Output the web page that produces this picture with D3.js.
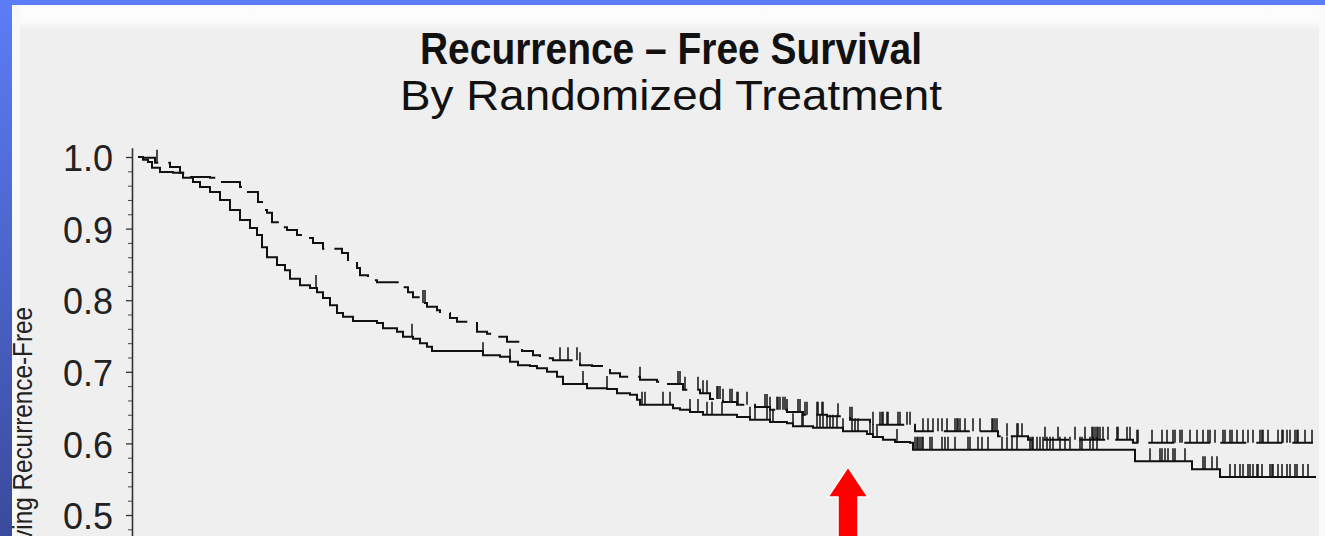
<!DOCTYPE html>
<html>
<head>
<meta charset="utf-8">
<script src="https://cdn.jsdelivr.net/npm/d3@7"></script>
<style>
  body { margin: 0; overflow: hidden; background: #fff; }
  text { font-family: "Liberation Sans", Arial, sans-serif; }
</style>
</head>
<body>
<svg id="chart"></svg>
<script>
// time in months, survival as proportion recurrence-free
const solidTimes = [0.5, 1.0, 1.4, 2.2, 3.5, 4.5, 5.5, 6.2, 7.2, 8.2, 9.2, 10.2, 11.2, 11.9, 12.4, 12.9, 13.9, 14.7, 15.2, 16.2,
  17.2, 17.9, 18.5, 19.2, 19.9, 20.5, 21.5, 23.9, 24.5, 25.9, 26.5, 27.5, 28.2, 28.9, 29.4, 34.5, 36.2, 37.2, 38.0, 39.2,
  39.9, 40.9, 41.9, 42.5, 44.9, 46.9, 47.9, 49.2, 49.9, 50.2, 53.5, 54.2, 55.2, 56.5, 59.9, 61.2, 63.2, 64.9, 65.5, 67.5,
  70.5, 72.9, 73.5, 74.5, 75.7, 77.2, 77.5, 99.7, 105.4, 108.2];
const solidSurv = [0.996, 0.993, 0.985, 0.979, 0.978, 0.971, 0.965, 0.958, 0.951, 0.940, 0.926, 0.912, 0.901, 0.891, 0.874, 0.860, 0.849, 0.842, 0.830, 0.821,
  0.817, 0.811, 0.803, 0.793, 0.782, 0.777, 0.771, 0.768, 0.761, 0.756, 0.749, 0.746, 0.740, 0.735, 0.729, 0.723, 0.721, 0.714, 0.709, 0.708,
  0.705, 0.700, 0.693, 0.683, 0.677, 0.676, 0.670, 0.668, 0.661, 0.654, 0.649, 0.647, 0.644, 0.640, 0.637, 0.633, 0.630, 0.628, 0.624, 0.622,
  0.617, 0.613, 0.609, 0.605, 0.602, 0.601, 0.591, 0.575, 0.564, 0.553];
const solidEnd = 117.8;

const dashedTimes = [0.5, 1.7, 3.2, 4.2, 4.7, 7.2, 8.2, 10.2, 11.0, 12.0, 12.4, 12.9, 13.4, 14.2, 14.9, 15.9, 16.7, 17.5, 18.5, 20.4,
  21.0, 21.9, 22.2, 23.0, 23.9, 26.5, 27.0, 27.5, 28.5, 28.9, 29.9, 30.2, 31.2, 31.9, 33.9, 34.9, 35.9, 36.9, 38.4, 39.5,
  40.2, 41.5, 44.2, 45.4, 46.5, 47.2, 48.2, 50.2, 51.9, 52.9, 54.5, 56.2, 57.2, 58.5, 59.9, 61.7, 63.2, 64.9, 66.5, 68.9,
  71.2, 73.2, 77.7, 86.0, 89.0, 99.5];
const dashedSurv = [0.999, 0.992, 0.986, 0.978, 0.972, 0.971, 0.965, 0.958, 0.951, 0.937, 0.926, 0.922, 0.909, 0.902, 0.898, 0.891, 0.887, 0.880, 0.872, 0.866,
  0.852, 0.845, 0.835, 0.828, 0.825, 0.818, 0.811, 0.804, 0.796, 0.791, 0.786, 0.782, 0.775, 0.770, 0.756, 0.753, 0.749, 0.742, 0.729, 0.723,
  0.719, 0.716, 0.709, 0.708, 0.705, 0.698, 0.693, 0.689, 0.686, 0.683, 0.675, 0.670, 0.662, 0.658, 0.654, 0.651, 0.647, 0.644, 0.640, 0.638,
  0.633, 0.626, 0.617, 0.610, 0.605, 0.601];
const dashedEnd = 117.5;

// censored observations (months)
const solidCensor = [17.8, 27.4, 34.5, 37.2, 44.5, 46.9, 50.4, 50.7, 52.5, 53.2, 55.2, 56.0, 56.9, 57.4, 58.4, 61.2, 61.7, 62.9, 63.2, 63.5,
  65.5, 66.4, 66.5, 67.9, 68.2, 68.5, 68.9, 69.2, 69.5, 69.9, 70.5, 71.4, 71.7, 72.0, 73.2, 73.5, 73.9, 75.9, 77.7, 77.9,
  78.0, 78.2, 78.4, 78.5, 79.2, 79.4, 80.4, 80.7, 81.0, 81.7, 83.0, 83.2, 84.0, 84.4, 85.0, 86.4, 86.9, 87.4, 87.9, 89.2,
  89.4, 89.5, 89.9, 90.2, 90.5, 90.9, 91.2, 91.5, 92.2, 92.7, 93.2, 94.2, 94.4, 95.2, 95.5, 95.9, 101.2, 102.2, 102.4, 102.7,
  103.0, 103.5, 103.7, 104.7, 106.5, 106.7, 107.4, 107.9, 109.2, 109.7, 110.2, 110.5, 111.0, 111.2, 111.5, 111.9, 112.0, 112.4, 113.2, 113.4,
  113.5, 114.0, 114.4, 114.9, 115.2, 115.7, 115.9, 116.5, 117.0];
const dashedCensor = [1.9, 28.5, 28.7, 42.2, 43.0, 43.9, 44.2, 50.2, 54.0, 54.2, 54.7, 56.0, 56.5, 56.9, 57.9, 58.0, 58.2, 58.5, 59.2, 59.4,
  59.9, 60.0, 60.9, 62.7, 62.9, 63.2, 63.9, 64.0, 64.2, 64.5, 64.7, 64.9, 66.0, 66.2, 66.7, 66.9, 67.9, 68.0, 68.4, 68.5,
  70.0, 71.2, 71.4, 73.5, 74.2, 74.4, 74.5, 74.9, 75.0, 76.0, 76.2, 76.9, 77.2, 78.5, 79.0, 79.5, 80.0, 80.4, 80.9, 81.7,
  81.9, 82.0, 82.2, 82.7, 83.5, 84.2, 85.4, 85.5, 85.7, 85.9, 86.9, 87.9, 88.0, 88.4, 90.7, 92.0, 93.7, 94.7, 95.4, 95.5,
  95.7, 95.9, 96.0, 96.2, 96.5, 97.0, 97.9, 98.0, 98.9, 99.2, 99.9, 100.0, 101.4, 102.4, 102.9, 103.5, 103.7, 104.2, 104.4, 105.2,
  105.9, 106.5, 107.0, 107.2, 107.7, 108.5, 108.7, 109.2, 109.4, 109.9, 110.5, 111.0, 111.5, 112.2, 112.4, 112.5, 113.0, 114.0, 114.4, 114.5,
  114.9, 115.2, 115.7, 115.9, 116.0, 116.7, 117.4];

const majorTicks = [0.5, 0.6, 0.7, 0.8, 0.9, 1.0];
const minorTicks = [0.46, 0.48, 0.52, 0.54, 0.56, 0.58, 0.62, 0.64, 0.66, 0.68, 0.72, 0.74, 0.76, 0.78, 0.82, 0.84, 0.86, 0.88, 0.92, 0.94, 0.96, 0.98];
const arrowMonth = 71;

const W = 1325, H = 536;
const svg = d3.select("#chart").attr("width", W).attr("height", H);

// slide background
const defs = svg.append("defs");
const side = defs.append("linearGradient").attr("id", "side").attr("x1", 0).attr("y1", 0).attr("x2", 0).attr("y2", 1);
side.append("stop").attr("offset", "0%").attr("stop-color", "#5c7df7");
side.append("stop").attr("offset", "100%").attr("stop-color", "#3a4a9c");
const topFade = defs.append("linearGradient").attr("id", "topfade").attr("x1", 0).attr("y1", 0).attr("x2", 0).attr("y2", 1);
topFade.append("stop").attr("offset", "0%").attr("stop-color", "#fdfdfd");
topFade.append("stop").attr("offset", "70%").attr("stop-color", "#fbfbfb");
topFade.append("stop").attr("offset", "100%").attr("stop-color", "#efefef");

svg.append("rect").attr("width", W).attr("height", H).attr("fill", "#efefef");
svg.append("rect").attr("x", 0).attr("y", 0).attr("width", W).attr("height", 30).attr("fill", "url(#topfade)");
svg.append("rect").attr("x", 12).attr("y", 0).attr("width", 8).attr("height", H).attr("fill", "#f8f8f8");
svg.append("rect").attr("x", 1319).attr("y", 0).attr("width", 6).attr("height", H).attr("fill", "#fafafa");
svg.append("rect").attr("x", 0).attr("y", 0).attr("width", W).attr("height", 5).attr("fill", "#5c7df7");
svg.append("rect").attr("x", 0).attr("y", 0).attr("width", 12).attr("height", H).attr("fill", "url(#side)");

// titles
svg.append("text")
   .attr("x", 671).attr("y", 64)
   .attr("text-anchor", "middle")
   .attr("textLength", 502).attr("lengthAdjust", "spacingAndGlyphs")
   .style("font-size", "44px").style("font-weight", "bold").attr("fill", "#111")
   .text("Recurrence – Free  Survival");
svg.append("text")
   .attr("x", 671).attr("y", 110)
   .attr("text-anchor", "middle")
   .attr("textLength", 542).attr("lengthAdjust", "spacingAndGlyphs")
   .style("font-size", "43px").attr("fill", "#111")
   .text("By Randomized Treatment");

// scales
const x = d3.scaleLinear().domain([0, 120]).range([138, 1338]);
const y = d3.scaleLinear().domain([0.45, 1.013]).range([550.8, 147.7]);

// y axis
const yAxis = svg.append("g")
   .attr("transform", "translate(132,0)")
   .call(d3.axisLeft(y).tickValues(majorTicks).tickFormat(d3.format(".1f")).tickSize(6).tickSizeOuter(0).tickPadding(13));
yAxis.select(".domain").attr("stroke", "#333").attr("stroke-width", 1.6);
yAxis.selectAll(".tick line").attr("stroke", "#333").attr("stroke-width", 1.3);
yAxis.selectAll(".tick text")
   .attr("fill", "#222")
   .attr("dy", "0.38em")
   .style("font-size", "36px")
   .style("font-family", "'Liberation Sans', Arial, sans-serif");

svg.append("g")
   .attr("transform", "translate(132,0)")
   .call(d3.axisLeft(y).tickValues(minorTicks).tickFormat("").tickSize(4).tickSizeOuter(0))
   .call(g => g.select(".domain").remove())
   .selectAll(".tick line").attr("stroke", "#444").attr("stroke-width", 1);

svg.append("text")
   .attr("transform", "translate(32,307) rotate(-90) scale(0.9,1)")
   .attr("text-anchor", "end")
   .style("font-size", "27px").attr("fill", "#222")
   .text("Proportion Surviving Recurrence-Free");

// survival curves
function steps(times, surv, end) {
  const pts = [[0, 1]];
  times.forEach((t, i) => pts.push([t, surv[i]]));
  pts.push([end, surv[surv.length - 1]]);
  return pts;
}
function survAt(times, surv, t) {
  const i = d3.bisectRight(times, t) - 1;
  return i < 0 ? 1 : surv[i];
}

const line = d3.line().x(d => x(d[0])).y(d => y(d[1])).curve(d3.curveStepAfter);

svg.append("path")
   .datum(steps(solidTimes, solidSurv, solidEnd))
   .attr("d", line)
   .attr("fill", "none").attr("stroke", "#111").attr("stroke-width", 2);

svg.append("path")
   .datum(steps(dashedTimes, dashedSurv, dashedEnd))
   .attr("d", line)
   .attr("fill", "none").attr("stroke", "#111").attr("stroke-width", 2)
   .attr("stroke-dasharray", "26,10");

const censorH = 13;
svg.selectAll(".cs")
   .data(solidCensor)
   .enter().append("line")
   .attr("class", "cs")
   .attr("x1", d => x(d)).attr("x2", d => x(d))
   .attr("y1", d => y(survAt(solidTimes, solidSurv, d)))
   .attr("y2", d => y(survAt(solidTimes, solidSurv, d)) - censorH)
   .attr("stroke", "#111").attr("stroke-width", 1.5);

svg.selectAll(".cd")
   .data(dashedCensor)
   .enter().append("line")
   .attr("class", "cd")
   .attr("x1", d => x(d)).attr("x2", d => x(d))
   .attr("y1", d => y(survAt(dashedTimes, dashedSurv, d)))
   .attr("y2", d => y(survAt(dashedTimes, dashedSurv, d)) - censorH)
   .attr("stroke", "#111").attr("stroke-width", 1.5);

// red arrow
const ax = x(arrowMonth);
const arrow = [[ax, 467], [ax + 20, 497], [ax + 10, 497], [ax + 10, 545], [ax - 10, 545], [ax - 10, 497], [ax - 20, 497]];
svg.append("path")
   .attr("d", d3.line()(arrow) + "Z")
   .attr("fill", "#ff0000")
   .attr("stroke", "#ffffff").attr("stroke-width", 1.5);
</script>
</body>
</html>
